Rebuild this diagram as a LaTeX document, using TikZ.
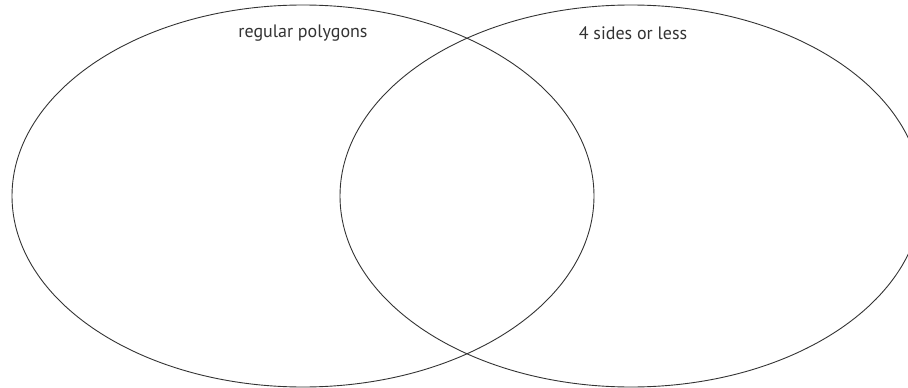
\documentclass[tikz,border=0pt]{standalone}
\usepackage{fontspec}
\setmainfont{PT Sans}
\usetikzlibrary{shapes.geometric}
\begin{document}
\begin{tikzpicture}[x=1pt,y=-1pt,
  setline/.style={draw=black!80, line width=0.9pt},
  setlabel/.style={text=black!80, font=\fontsize{18}{21}\selectfont, inner sep=0pt}]
\useasboundingbox (0,0) rectangle (908,388);
\begin{scope}
\clip (0,0) rectangle (908,388);
\node[setline, ellipse, minimum width=582pt, minimum height=382pt, inner sep=0pt] (L) at (303,196) {};
\node[setline, ellipse, minimum width=582pt, minimum height=382pt, inner sep=0pt] (R) at (631,196) {};
\end{scope}
\node[setlabel] (tl) at (303,33) {regular polygons};
\node[setlabel] (tr) at (633,33) {4 sides or less};
\end{tikzpicture}
\end{document}
